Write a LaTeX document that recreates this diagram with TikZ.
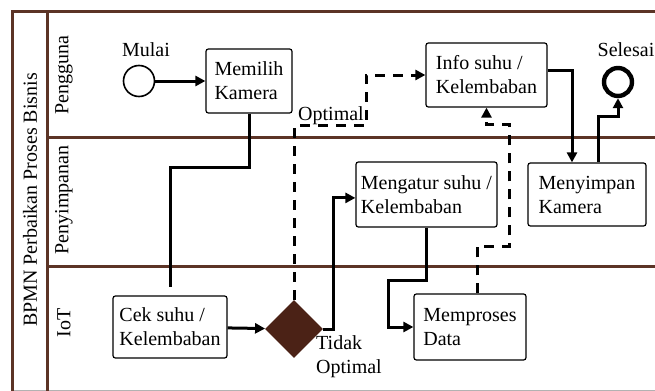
\documentclass[tikz,border=0pt]{standalone}
\usepackage{fontspec}
\setmainfont{Liberation Serif}
\usetikzlibrary{arrows.meta,shapes.geometric}
\definecolor{lanebrown}{RGB}{92,52,38}
\definecolor{gatebrown}{RGB}{75,34,22}
\begin{document}
\begin{tikzpicture}[x=0.5pt,y=-0.5pt,
  >={Triangle[length=5pt,width=5pt]},
  lane/.style={lanebrown,line width=1.5pt},
  task/.style={draw,rounded corners=1.2pt,line width=0.6pt,align=left,inner sep=2pt},
  flow/.style={->,line width=1.5pt},
  msg/.style={->,line width=1.5pt,dash pattern=on 5pt off 4pt}]
\useasboundingbox (0,0) rectangle (655,391);
\draw[gray!60,line width=0.5pt] (12.7,390) -- (655,390);
\draw[lane] (655,11) -- (12.7,11) -- (12.7,391);
\draw[lane] (47.7,11) -- (47.7,391);
\draw[lane] (47.7,137) -- (655,137);
\draw[lane] (47.7,266) -- (655,266);
\node[rotate=90] (pool) at (30,200) {BPMN Perbaikan Proses Bisnis};
\node[rotate=90] (lanea) at (64,75) {Pengguna};
\node[rotate=90] (laneb) at (64,200) {Penyimpanan};
\node[rotate=90] (lanec) at (64,323) {IoT};
\node[draw,circle,line width=0.8pt,minimum size=15.5pt,inner sep=0pt] (mulai) at (139,81) {};
\node (mulailbl) at (146,50) {Mulai};
\node[draw,circle,line width=2.2pt,minimum size=14pt,inner sep=0pt] (selesai) at (618,82) {};
\node (selesailbl) at (626,50) {Selesai};
\node[task,minimum width=43pt,minimum height=32pt] (memilih) at (249,81) {Memilih\\Kamera};
\node[task,minimum width=60.5pt,minimum height=32pt] (info) at (486.5,75) {Info suhu /\\Kelembaban};
\node[task,minimum width=59pt,minimum height=31.5pt] (menyimpan) at (587,194.5) {Menyimpan\\Kamera};
\node[task,minimum width=70.5pt,minimum height=32.5pt] (mengatur) at (426.5,194.5) {Mengatur suhu /\\Kelembaban};
\node[task,minimum width=57pt,minimum height=31pt] (cek) at (170,327) {Cek suhu /\\Kelembaban};
\node[task,minimum width=56pt,minimum height=33pt] (memproses) at (470,327) {Memproses\\Data};
\node[diamond,fill=gatebrown,minimum size=29pt,inner sep=0pt] (gate) at (294,329) {};
\node (optlbl) at (331,116) {Optimal};
\node[align=left] (tidaklbl) at (349,357) {Tidak\\Optimal};
\draw[flow] (mulai) -- (memilih);
\draw[line width=1.5pt] (memilih.south) -- ++(0,54) -| ([yshift=4pt]cek.north);
\draw[flow] (cek) -- (gate);
\draw[msg] (gate.north) -- ++(0,-174) -- ++(72,0) |- (info.west);
\draw[flow] (gate.east) -- ++(10,0) |- ([yshift=-1.7pt]mengatur.west);
\draw[flow] (mengatur.south) -- ++(0,53) -- ++(-38,0) |- (memproses.west);
\draw[msg] ([xshift=3.5pt]memproses.north) -- ++(0,-47) -- ++(32,0) -- ++(0,-122) -| (info.south);
\draw[flow] ([yshift=2.5pt]info.east) -| ([xshift=-7.5pt]menyimpan.north);
\draw[flow] ([xshift=5.5pt]menyimpan.north) -- ++(0,-46) -| (selesai.south);
\end{tikzpicture}
\end{document}
